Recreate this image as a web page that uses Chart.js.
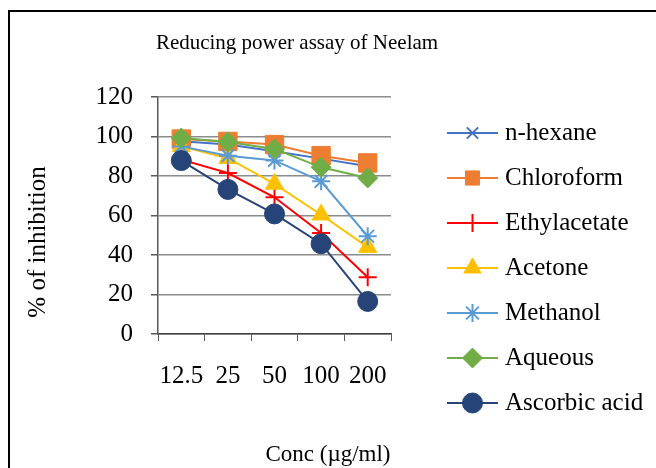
<!DOCTYPE html>
<html><head><meta charset="utf-8">
<script src="https://cdn.jsdelivr.net/npm/chart.js@4/dist/chart.umd.min.js"></script>
<style>
html,body{margin:0;padding:0;background:#fff;overflow:hidden}
#wrap{position:relative;width:656px;height:468px}
#frame{position:absolute;left:8px;top:10px;width:700px;height:500px;border-left:2px solid #000;border-top:2px solid #000;pointer-events:none}
</style></head><body>
<div id="wrap"><canvas id="c" width="656" height="468"></canvas><div id="frame"></div></div>
<script>
const chartTitle = 'Reducing power assay of Neelam';
const xAxisTitle = 'Conc (µg/ml)';
const yAxisTitle = '% of inhibition';
const categories = ['12.5', '25', '50', '100', '200'];
const yTicks = [0, 20, 40, 60, 80, 100, 120];
const seriesNames = ['n-hexane', 'Chloroform', 'Ethylacetate', 'Acetone', 'Methanol', 'Aqueous', 'Ascorbic acid'];
const nHexane = [97.6, 95.9, 92.5, 88.8, 84.9];
const chloroform = [98.7, 97.5, 95.9, 90.3, 86.6];
const ethylacetate = [88.3, 81.5, 69.2, 51.1, 28.7];
const acetone = [95.0, 89.0, 76.0, 60.4, 44.0];
const methanol = [95.0, 90.3, 87.9, 77.3, 49.5];
const aqueous = [99.2, 97.2, 93.7, 84.4, 79.0];
const ascorbicAcid = [87.8, 73.2, 60.8, 45.7, 16.5];

const seriesValues = [nHexane, chloroform, ethylacetate, acetone, methanol, aqueous, ascorbicAcid];
const seriesColors = ['#4472C4', '#ED7D31', '#FF0000', '#FFC000', '#5B9BD5', '#70AD47', '#264478'];
const seriesStyles = ['crossRot', 'rect', 'cross', 'triangle', 'star', 'rectRot', 'circle'];
const seriesRadius = [8, 13, 9, 10.5, 9, 10, 10];

const FONT = "'Liberation Serif', 'Times New Roman', serif";

const datasets = seriesNames.map((name, i) => ({
  label: name,
  data: seriesValues[i],
  borderColor: seriesColors[i],
  backgroundColor: seriesColors[i],
  pointBackgroundColor: seriesColors[i],
  pointBorderColor: seriesColors[i],
  pointStyle: seriesStyles[i],
  pointRadius: seriesRadius[i],
  pointBorderWidth: (seriesStyles[i] === 'crossRot' || seriesStyles[i] === 'cross' || seriesStyles[i] === 'star') ? 2 : 1,
  borderWidth: 2,
  tension: 0,
  fill: false,
  order: seriesNames.length - i
}));

const CA = {left: 158, top: 97, right: 391, bottom: 334};

const decor = {
  id: 'decor',
  afterDraw(chart) {
    const ctx = chart.ctx;
    ctx.save();
    ctx.fillStyle = '#000';
    // title
    ctx.font = '21px ' + FONT;
    ctx.textAlign = 'center';
    ctx.textBaseline = 'middle';
    ctx.fillText(chartTitle, 297, 43);
    // x title
    ctx.font = '23px ' + FONT;
    ctx.fillText(xAxisTitle, 328, 455);
    // y title
    ctx.save();
    ctx.translate(38, 242);
    ctx.rotate(-Math.PI / 2);
    ctx.font = '25px ' + FONT;
    ctx.fillText(yAxisTitle, 0, 0);
    ctx.restore();
    // legend
    const x0 = 447, x1 = 498, tx = 505, y0 = 133, step = 45;
    chart.data.datasets.forEach((ds, i) => {
      const y = y0 + i * step;
      ctx.strokeStyle = ds.borderColor;
      ctx.lineWidth = 2;
      ctx.beginPath();
      ctx.moveTo(x0, y);
      ctx.lineTo(x1, y);
      ctx.stroke();
      ctx.fillStyle = ds.pointBackgroundColor;
      ctx.strokeStyle = ds.pointBorderColor;
      ctx.lineWidth = ds.pointBorderWidth;
      Chart.helpers.drawPoint(ctx, {pointStyle: ds.pointStyle, rotation: 0, radius: Math.min(ds.pointRadius, 10), borderWidth: ds.pointBorderWidth}, (x0 + x1) / 2, y);
      ctx.fillStyle = '#000';
      ctx.font = '25px ' + FONT;
      ctx.textAlign = 'left';
      ctx.textBaseline = 'middle';
      ctx.fillText(ds.label, tx, y);
    });
    ctx.restore();
  }
};

new Chart(document.getElementById('c'), {
  type: 'line',
  data: {labels: categories, datasets},
  options: {
    responsive: false,
    animation: false,
    devicePixelRatio: 1,
    layout: {padding: {left: 0, top: CA.top, right: 656 - CA.right, bottom: 0}},
    plugins: {legend: {display: false}, title: {display: false}, tooltip: {enabled: false}},
    scales: {
      x: {
        type: 'category',
        offset: true,
        afterFit(s) { s.height = 468 - CA.bottom; },
        grid: {display: true, drawOnChartArea: false, drawTicks: true, tickLength: 7, offset: true, color: '#595959', tickColor: '#595959'},
        border: {display: true, color: '#404040', width: 1.5},
        ticks: {color: '#000', font: {family: FONT, size: 25}, padding: 20, maxRotation: 0, autoSkip: false}
      },
      y: {
        min: 0, max: 120,
        afterFit(s) { s.width = CA.left; },
        afterBuildTicks(s) { s.ticks = yTicks.map(v => ({value: v})); },
        grid: {color: '#8c8c8c', lineWidth: 1.5, tickLength: 7, tickColor: '#595959'},
        border: {display: true, color: '#595959', width: 1.5},
        ticks: {color: '#000', font: {family: FONT, size: 25}, padding: 18}
      }
    }
  },
  plugins: [decor]
});
</script>
</body></html>
